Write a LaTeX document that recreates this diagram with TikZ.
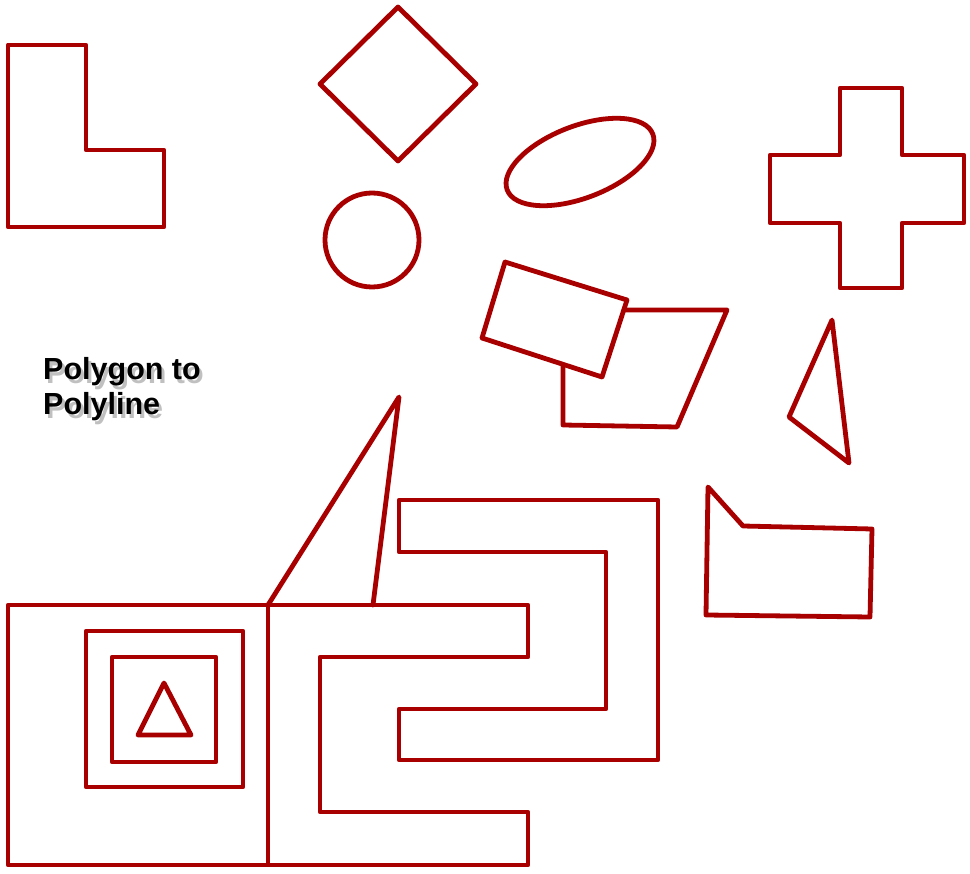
\documentclass[tikz,border=0pt]{standalone}
\usepackage{fontspec}
\setmainfont{Liberation Sans}
\definecolor{shapered}{RGB}{168,0,0}
\tikzset{
  shp/.style={draw=shapered, line width=4.8pt, line join=round, line cap=round},
  lbl/.style={anchor=base west, inner sep=0pt, font=\fontsize{30.5}{36}\selectfont\bfseries},
  shd/.style={lbl, text=black!55, opacity=0.45}
}
\begin{document}
\begin{tikzpicture}[x=1pt,y=1pt]
\useasboundingbox (0,0) rectangle (970,-874);
% L shape
\draw[shp] (8,-45) -- (86,-45) -- (86,-150) -- (164,-150) -- (164,-227) -- (8,-227) -- cycle;
% diamond
\draw[shp] (398,-7) -- (476,-84) -- (398,-161) -- (320,-84) -- cycle;
% circle
\draw[shp] (372,-240) circle [radius=47];
% ellipse
\draw[shp, rotate around={21:(580,-162)}] (580,-162) ellipse [x radius=78, y radius=36];
% cross
\draw[shp] (840,-88) -- (902,-88) -- (902,-155) -- (964,-155) -- (964,-223) -- (902,-223) -- (902,-288) -- (840,-288) -- (840,-223) -- (770,-223) -- (770,-155) -- (840,-155) -- cycle;
% quadrilateral behind rectangle
\draw[shp] (563,-310) -- (727,-310) -- (677,-427) -- (563,-425) -- cycle;
% rotated rectangle
\draw[shp, fill=white] (505,-262) -- (627,-300) -- (602,-377) -- (482,-338) -- cycle;
% right triangle
\draw[shp] (832,-320) -- (849,-463) -- (789,-417) -- cycle;
% pentagon
\draw[shp] (708,-487) -- (743,-526) -- (872,-529) -- (870,-617) -- (706,-615) -- cycle;
% big triangle
\draw[shp] (268,-605) -- (399,-397) -- (373,-605);
% bottom-left squares
\draw[shp] (8,-605) rectangle (268,-865);
\draw[shp] (86,-631) rectangle (243,-787);
\draw[shp] (112,-657) rectangle (216,-762);
\draw[shp] (164,-683) -- (191,-735) -- (138,-735) -- cycle;
% outer C
\draw[shp] (268,-605) -- (528,-605) -- (528,-657) -- (320,-657) -- (320,-812) -- (528,-812) -- (528,-865) -- (268,-865);
% reversed C
\draw[shp] (399,-500) -- (658,-500) -- (658,-760) -- (399,-760) -- (399,-709) -- (606,-709) -- (606,-552) -- (399,-552) -- cycle;
% text with shadow
\node[shd] (s1) at (46,-384) {Polygon to};
\node[shd] (s2) at (46,-419) {Polyline};
\node[lbl] (t1) at (43,-380) {Polygon to};
\node[lbl] (t2) at (43,-415) {Polyline};
\end{tikzpicture}
\end{document}
